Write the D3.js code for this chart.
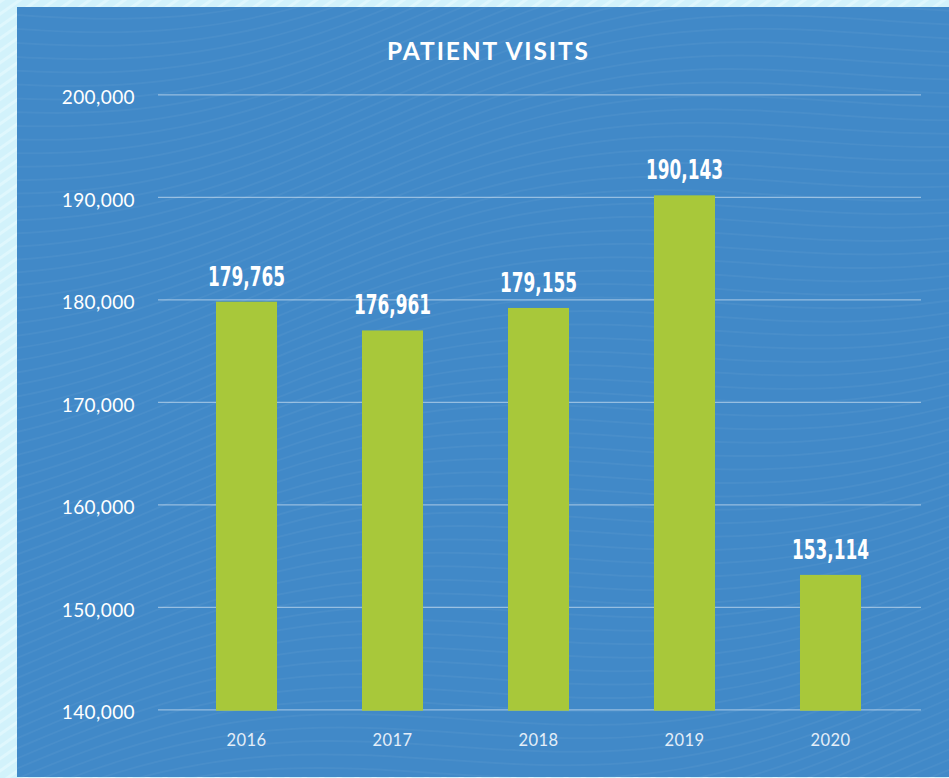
<!DOCTYPE html>
<html>
<head>
<meta charset="utf-8">
<script src="https://cdn.jsdelivr.net/npm/d3@7"></script>
<style>
  html, body { margin: 0; padding: 0; background: #d2f2fb; }
  svg { display: block; }
</style>
</head>
<body>
<svg id="chart" width="949" height="778"></svg>
<script>
const title = "PATIENT VISITS";
const years = ["2016", "2017", "2018", "2019", "2020"];
const visits = [179765, 176961, 179155, 190143, 153114];
const yTicks = [140000, 150000, 160000, 170000, 180000, 190000, 200000];

const W = 949, H = 778;
const svg = d3.select("#chart");

// outer light cyan with diagonal stripes
const defs = svg.append("defs");
const pat = defs.append("pattern").attr("id", "stripes")
  .attr("patternUnits", "userSpaceOnUse").attr("width", 10).attr("height", 10)
  .attr("patternTransform", "rotate(-35)");
pat.append("rect").attr("width", 10).attr("height", 10).attr("fill", "#d2f2fb");
pat.append("rect").attr("width", 10).attr("height", 3).attr("fill", "#dff7fd");
svg.append("rect").attr("width", W).attr("height", H).attr("fill", "url(#stripes)");

// blue panel
const panel = { x: 17, y: 7, w: W - 17, h: 770 };
svg.append("rect").attr("x", panel.x).attr("y", panel.y)
  .attr("width", panel.w).attr("height", panel.h).attr("fill", "#4189c8");

// subtle wave texture
defs.append("clipPath").attr("id", "pclip").append("rect")
  .attr("x", panel.x).attr("y", panel.y).attr("width", panel.w).attr("height", panel.h);
const waves = svg.append("g").attr("clip-path", "url(#pclip)");
const waveLine = d3.line().curve(d3.curveBasis);
for (let k = -10; k < 90; k++) {
  const y0 = k * 12;
  const pts = d3.range(0, 1000, 40).map(px => [px, y0 - 0.18 * px + 40 * Math.sin(px / 160 + k * 0.05)]);
  waves.append("path").attr("d", waveLine(pts))
    .attr("fill", "none").attr("stroke", "#ffffff").attr("stroke-opacity", 0.045).attr("stroke-width", 2);
}

// scales
const y = d3.scaleLinear().domain([140000, 200000]).range([709.3, 94.3]);
const x = d3.scaleBand().domain(years).range([173.5, 903.5])
  .paddingInner(0.582).paddingOuter(0.291);

const gridLeft = 158, gridRight = 921;

// y axis with gridlines
const yAxis = svg.append("g").attr("transform", `translate(${gridLeft},0)`)
  .call(d3.axisLeft(y).tickValues(yTicks).tickSize(-(gridRight - gridLeft))
    .tickPadding(23).tickFormat(d3.format(",")));
yAxis.select(".domain").remove();
yAxis.selectAll(".tick line").attr("stroke", "#ffffff").attr("stroke-opacity", 0.45).attr("stroke-width", 1.2);
yAxis.selectAll(".tick text")
  .attr("fill", "#ffffff")
  .attr("font-family", "Lato, 'Open Sans', sans-serif")
  .attr("font-size", 19)
  .attr("letter-spacing", 0.4)
  .attr("dy", "0.5em");

// bars
svg.append("g").selectAll("rect").data(visits).join("rect")
  .attr("x", (d, i) => x(years[i]))
  .attr("y", d => y(d))
  .attr("width", x.bandwidth())
  .attr("height", d => y(140000) - y(d) + 1.4)
  .attr("fill", "#a8c83a");

// value labels (condensed bold)
svg.append("g").selectAll("text").data(visits).join("text")
  .attr("x", (d, i) => x(years[i]) + x.bandwidth() / 2)
  .attr("y", d => y(d) - 16)
  .attr("text-anchor", "middle")
  .attr("fill", "#ffffff")
  .attr("font-family", "'Liberation Sans Narrow', 'DejaVu Sans Condensed', 'DejaVu Sans', sans-serif")
  .attr("font-weight", "bold")
  .attr("font-size", 27)
  .attr("textLength", 77)
  .attr("lengthAdjust", "spacingAndGlyphs")
  .text(d => d3.format(",")(d));

// x axis
const xAxis = svg.append("g").attr("transform", `translate(0,${y(140000)})`)
  .call(d3.axisBottom(x).tickSize(0));
xAxis.select(".domain").remove();
xAxis.selectAll(".tick text")
  .attr("fill", "#e4eef8")
  .attr("font-family", "Lato, 'Open Sans', sans-serif")
  .attr("font-size", 16.5)
  .attr("letter-spacing", 0.4)
  .attr("y", 36.4).attr("dy", null);

// title
svg.append("text")
  .attr("x", 487.5).attr("y", 59.5)
  .attr("text-anchor", "middle")
  .attr("fill", "#ffffff")
  .attr("font-family", "Lato, 'Open Sans', sans-serif")
  .attr("font-weight", "bold")
  .attr("font-size", 24.5)
  .attr("textLength", 201)
  .attr("lengthAdjust", "spacing")
  .text(title);
</script>
</body>
</html>
